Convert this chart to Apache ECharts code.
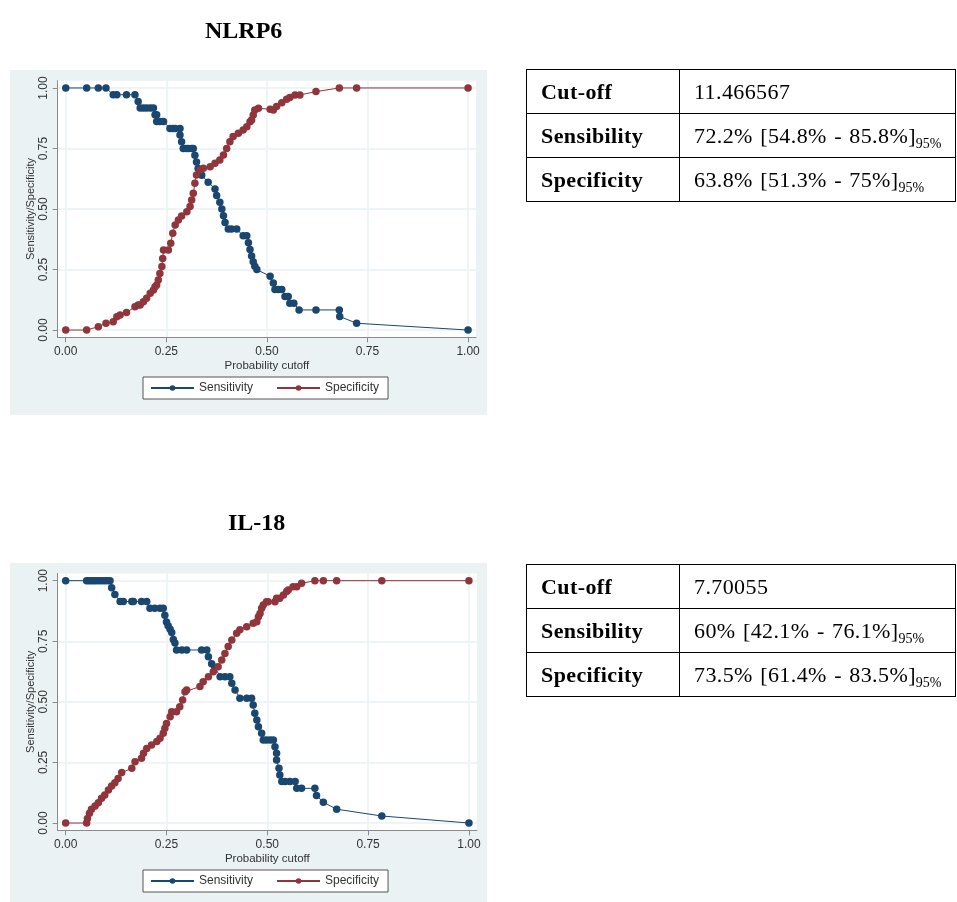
<!DOCTYPE html>
<html>
<head>
<meta charset="utf-8">
<title>NLRP6 / IL-18 sensitivity and specificity</title>
<script src="https://cdn.jsdelivr.net/npm/echarts@6/dist/echarts.min.js"></script>
<style>
    html, body { margin: 0; padding: 0; background: #fff; }
    #page { position: relative; width: 957px; height: 902px; overflow: hidden; }
    #myChart { position: absolute; left: 0; top: 0; width: 957px; height: 902px; }
    table.stats {
        position: absolute;
        border-collapse: collapse;
        font-family: "Liberation Serif", "Times New Roman", serif;
        font-size: 22px;
        letter-spacing: 0.4px;
        word-spacing: 1.5px;
        color: #000;
    }
    table.stats td {
        border: 1.5px solid #000;
        height: 43px;
        padding: 0 0 0 14px;
        white-space: nowrap;
        vertical-align: middle;
    }
    table.stats td.k { font-weight: bold; width: 138px; }
    table.stats td.v { width: 261px; }
    table.stats sub { font-size: 14px; letter-spacing: 0; vertical-align: -5px; line-height: 0; }
</style>
</head>
<body>
<div id="page">
    <div id="myChart"></div>
</div>
<script>
// ---- data ----
// NLRP6
const nlrp6SensX = [0, 0.052, 0.081, 0.100, 0.118, 0.127, 0.151, 0.172, 0.180, 0.185, 0.193, 0.201, 0.210, 0.218,
    0.222, 0.226, 0.226, 0.234, 0.243, 0.259, 0.266, 0.272, 0.284, 0.284, 0.288, 0.292, 0.299, 0.305, 0.313, 0.317,
    0.321, 0.325, 0.329, 0.338, 0.354, 0.371, 0.375, 0.383, 0.388, 0.392, 0.396, 0.404, 0.412, 0.425, 0.441, 0.450,
    0.454, 0.458, 0.462, 0.466, 0.470, 0.475, 0.508, 0.516, 0.520, 0.528, 0.537, 0.545, 0.553, 0.557, 0.567, 0.580,
    0.622, 0.680, 0.681, 0.723, 1.000];
const nlrp6SensY = [1, 1, 1, 1, 0.972, 0.972, 0.972, 0.972, 0.944, 0.917, 0.917, 0.917, 0.917, 0.917,
    0.889, 0.889, 0.861, 0.861, 0.861, 0.833, 0.833, 0.833, 0.833, 0.806, 0.778, 0.750, 0.750, 0.750, 0.750, 0.750,
    0.722, 0.694, 0.667, 0.639, 0.611, 0.583, 0.556, 0.528, 0.500, 0.472, 0.444, 0.417, 0.417, 0.417, 0.389, 0.389,
    0.361, 0.333, 0.306, 0.282, 0.264, 0.250, 0.222, 0.194, 0.167, 0.167, 0.167, 0.139, 0.139, 0.111, 0.111, 0.083,
    0.083, 0.083, 0.056, 0.028, 0];
const nlrp6SpecX = [0, 0.052, 0.081, 0.100, 0.118, 0.127, 0.135, 0.151, 0.172, 0.180, 0.185, 0.193, 0.201, 0.210,
    0.218, 0.222, 0.226, 0.230, 0.234, 0.239, 0.241, 0.243, 0.255, 0.261, 0.266, 0.272, 0.280, 0.288, 0.301, 0.309,
    0.313, 0.317, 0.321, 0.325, 0.334, 0.342, 0.359, 0.371, 0.383, 0.392, 0.400, 0.408, 0.416, 0.429, 0.441, 0.450,
    0.458, 0.462, 0.466, 0.470, 0.479, 0.508, 0.516, 0.524, 0.537, 0.549, 0.557, 0.570, 0.582, 0.622, 0.680, 0.723,
    1.000];
const nlrp6SpecY = [0, 0, 0.014, 0.028, 0.034, 0.055, 0.062, 0.072, 0.096, 0.103, 0.103, 0.117, 0.131, 0.152,
    0.165, 0.179, 0.186, 0.207, 0.234, 0.262, 0.296, 0.331, 0.331, 0.358, 0.400, 0.434, 0.455, 0.471, 0.489, 0.510,
    0.537, 0.565, 0.606, 0.640, 0.661, 0.668, 0.675, 0.689, 0.702, 0.723, 0.750, 0.778, 0.799, 0.813, 0.826, 0.840,
    0.860, 0.868, 0.888, 0.909, 0.916, 0.912, 0.909, 0.923, 0.939, 0.953, 0.961, 0.971, 0.971, 0.985, 1, 1,
    1];

// IL-18
const il18SensX = [0, 0.052, 0.058, 0.064, 0.070, 0.076, 0.083, 0.090, 0.097, 0.104, 0.110, 0.114, 0.122, 0.135,
    0.143, 0.164, 0.168, 0.188, 0.201, 0.209, 0.221, 0.234, 0.242, 0.246, 0.250, 0.254, 0.259, 0.263, 0.267, 0.271,
    0.275, 0.288, 0.300, 0.337, 0.350, 0.354, 0.362, 0.370, 0.383, 0.395, 0.407, 0.412, 0.420, 0.432, 0.449, 0.461,
    0.465, 0.469, 0.474, 0.478, 0.486, 0.490, 0.498, 0.507, 0.515, 0.519, 0.523, 0.523, 0.529, 0.531, 0.536, 0.544,
    0.556, 0.569, 0.573, 0.585, 0.618, 0.622, 0.639, 0.672, 0.784, 1.000];
const il18SensY = [1, 1, 1, 1, 1, 1, 1, 1, 1, 1, 1, 0.971, 0.943, 0.914,
    0.914, 0.914, 0.914, 0.914, 0.914, 0.886, 0.886, 0.886, 0.886, 0.857, 0.829, 0.814, 0.800, 0.786, 0.757, 0.743,
    0.714, 0.714, 0.714, 0.714, 0.714, 0.686, 0.657, 0.643, 0.604, 0.604, 0.604, 0.577, 0.549, 0.515, 0.515, 0.515,
    0.487, 0.453, 0.425, 0.397, 0.370, 0.343, 0.343, 0.343, 0.343, 0.315, 0.288, 0.260, 0.226, 0.198, 0.171, 0.171,
    0.171, 0.171, 0.143, 0.143, 0.143, 0.114, 0.086, 0.057, 0.029, 0];
const il18SpecX = [0, 0.052, 0.054, 0.059, 0.064, 0.073, 0.081, 0.089, 0.097, 0.106, 0.114, 0.122, 0.130, 0.139,
    0.164, 0.172, 0.188, 0.193, 0.201, 0.213, 0.226, 0.234, 0.242, 0.246, 0.250, 0.259, 0.263, 0.275, 0.283, 0.290,
    0.296, 0.300, 0.333, 0.341, 0.354, 0.366, 0.378, 0.387, 0.395, 0.403, 0.412, 0.424, 0.432, 0.449, 0.465, 0.474,
    0.478, 0.482, 0.486, 0.490, 0.498, 0.502, 0.519, 0.523, 0.531, 0.540, 0.548, 0.552, 0.564, 0.573, 0.585, 0.618,
    0.639, 0.672, 0.784, 1.000];
const il18SpecY = [0, 0, 0.019, 0.040, 0.057, 0.070, 0.084, 0.102, 0.116, 0.136, 0.153, 0.166, 0.184, 0.208,
    0.226, 0.253, 0.267, 0.288, 0.308, 0.322, 0.336, 0.350, 0.370, 0.391, 0.411, 0.439, 0.459, 0.459, 0.480, 0.508,
    0.542, 0.549, 0.563, 0.583, 0.604, 0.624, 0.645, 0.673, 0.700, 0.728, 0.755, 0.783, 0.797, 0.810, 0.824, 0.831,
    0.851, 0.865, 0.886, 0.900, 0.913, 0.913, 0.913, 0.927, 0.927, 0.941, 0.955, 0.962, 0.975, 0.975, 0.989, 1,
    1, 1, 1, 1];

// tick labels, shared by both panels
const tickValues = [0, 0.25, 0.5, 0.75, 1];

// the tables next to each chart
const nlrp6Stats = [
    ['Cut-off', '11.466567', ''],
    ['Sensibility', '72.2% [54.8% - 85.8%]', '95%'],
    ['Specificity', '63.8% [51.3% - 75%]', '95%']
];
const il18Stats = [
    ['Cut-off', '7.70055', ''],
    ['Sensibility', '60% [42.1% - 76.1%]', '95%'],
    ['Specificity', '73.5% [61.4% - 83.5%]', '95%']
];

const blue = '#1a476f';
const red = '#90353b';
const panelBg = '#eaf2f3';
const sans = '"Liberation Sans", Arial, sans-serif';
const serif = '"Liberation Serif", "Times New Roman", serif';

// build one html table from a stats array
function drawTable(rows, left, top) {
    let html = '';
    rows.forEach(function (r) {
        html += '<tr><td class="k">' + r[0] + '</td><td class="v">' + r[1] +
            (r[2] ? '<sub>' + r[2] + '</sub>' : '') + '</td></tr>';
    });
    let t = document.createElement('table');
    t.className = 'stats';
    t.style.left = left + 'px';
    t.style.top = top + 'px';
    t.innerHTML = html;
    document.getElementById('page').appendChild(t);
}
drawTable(nlrp6Stats, 526, 69);
drawTable(il18Stats, 526, 564);

function zip(xs, ys) {
    return xs.map(function (x, i) { return [x, ys[i]]; });
}

function xAxisFor(i) {
    return {
        type: 'value', gridIndex: i, min: -0.02, max: 1.02,
        name: 'Probability cutoff', nameLocation: 'middle', nameGap: 23,
        nameTextStyle: { fontSize: 11.5, color: '#333', fontFamily: sans },
        axisLine: { show: true, onZero: false, lineStyle: { color: '#8a8a8a' } },
        axisTick: { show: true, length: 5, customValues: tickValues, lineStyle: { color: '#8a8a8a' } },
        axisLabel: {
            customValues: tickValues, margin: 8, fontSize: 12, color: '#333', fontFamily: sans,
            formatter: function (v) { return v.toFixed(2); }
        },
        splitLine: { show: true, lineStyle: { color: panelBg, width: 1.5 } }
    };
}

function yAxisFor(i) {
    return {
        type: 'value', gridIndex: i, min: -0.03, max: 1.03,
        name: 'Sensitivity/Specificity', nameLocation: 'middle', nameGap: 21,
        nameTextStyle: { fontSize: 11, color: '#333', fontFamily: sans },
        axisLine: { show: true, onZero: false, lineStyle: { color: '#8a8a8a' } },
        axisTick: { show: true, length: 5, customValues: tickValues, lineStyle: { color: '#8a8a8a' } },
        axisLabel: {
            customValues: tickValues, rotate: 90, margin: 8, fontSize: 12, color: '#333', fontFamily: sans,
            formatter: function (v) { return v.toFixed(2); }
        },
        splitLine: { show: true, lineStyle: { color: panelBg, width: 1.5 } }
    };
}

function lineSeries(name, color, data, i) {
    return {
        type: 'line', name: name, xAxisIndex: i, yAxisIndex: i,
        data: data, symbol: 'circle', symbolSize: 7.5,
        lineStyle: { width: 1, color: color },
        itemStyle: { color: color },
        emphasis: { disabled: true }
    };
}

function legendAt(top) {
    return {
        left: 143, top: top, data: ['Sensitivity', 'Specificity'],
        itemWidth: 43, itemHeight: 7, itemGap: 23, padding: [5, 9, 5, 7],
        borderColor: '#555', borderWidth: 1, backgroundColor: '#fff', borderRadius: 0,
        textStyle: { fontSize: 12, color: '#333', fontFamily: sans }
    };
}

let myChart = echarts.init(document.getElementById('myChart'));

let option = {
    animation: false,
    backgroundColor: '#fff',
    title: [
        { text: 'NLRP6', left: 200, top: 15, textStyle: { fontFamily: serif, fontWeight: 'bold', fontSize: 24, color: '#000' } },
        { text: 'IL-18', left: 223, top: 507, textStyle: { fontFamily: serif, fontWeight: 'bold', fontSize: 24, color: '#000' } }
    ],
    // light panel behind each graph
    graphic: [
        { type: 'rect', z: -10, shape: { x: 10, y: 70, width: 477, height: 345 }, style: { fill: panelBg } },
        { type: 'rect', z: -10, shape: { x: 10, y: 563, width: 477, height: 339 }, style: { fill: panelBg } }
    ],
    grid: [
        { left: 57.7, top: 80.7, width: 418.4, height: 256.6, show: true, backgroundColor: '#fff', borderWidth: 0 },
        { left: 57.6, top: 573.4, width: 419.4, height: 256.9, show: true, backgroundColor: '#fff', borderWidth: 0 }
    ],
    xAxis: [xAxisFor(0), xAxisFor(1)],
    yAxis: [yAxisFor(0), yAxisFor(1)],
    legend: [legendAt(377), legendAt(870)],
    series: [
        lineSeries('Sensitivity', blue, zip(nlrp6SensX, nlrp6SensY), 0),
        lineSeries('Specificity', red, zip(nlrp6SpecX, nlrp6SpecY), 0),
        lineSeries('Sensitivity', blue, zip(il18SensX, il18SensY), 1),
        lineSeries('Specificity', red, zip(il18SpecX, il18SpecY), 1)
    ]
};
myChart.setOption(option);
</script>
</body>
</html>
